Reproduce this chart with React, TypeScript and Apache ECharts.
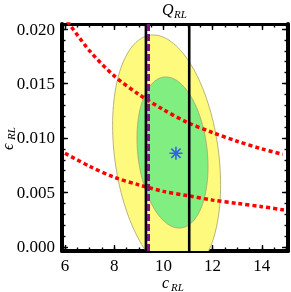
import React, { useEffect, useRef } from "react";
import * as echarts from "echarts";

// Axis ranges
const X_MIN = 5.878;
const X_MAX = 15.065;
const Y_MIN = -0.00037;
const Y_MAX = 0.02046;

// Ticks
const X_MAJOR = [6, 8, 10, 12, 14];
const X_MINOR = [6, 6.5, 7, 7.5, 8, 8.5, 9, 9.5, 10, 10.5, 11, 11.5, 12, 12.5, 13, 13.5, 14, 14.5, 15];
const Y_MAJOR = [0, 0.005, 0.01, 0.015, 0.02];
const Y_MINOR = [0, 0.001, 0.002, 0.003, 0.004, 0.005, 0.006, 0.007, 0.008, 0.009, 0.01, 0.011, 0.012, 0.013, 0.014, 0.015, 0.016, 0.017, 0.018, 0.019, 0.02];

// Confidence regions (outer = yellow, inner = green)
const ELLIPSE_CX = [10.13, 10.37];
const ELLIPSE_CY = [0.00844, 0.00867];
const ELLIPSE_RX = [2.195, 1.443];
const ELLIPSE_RY = [0.01067, 0.00681];
const ELLIPSE_TILT = [-0.00124, -0.000903];
const ELLIPSE_FILL = ["#fdfa7e", "#80ee80"];

// Red dotted curves
const UPPER_X = [6.1, 7, 8, 9, 10, 11, 12, 13, 14, 14.85];
const UPPER_Y = [0.0207, 0.018, 0.0157, 0.014, 0.0126, 0.0114, 0.0105, 0.0097, 0.009, 0.0085];
const LOWER_X = [6, 7, 8, 9, 10, 11, 12, 13, 14, 14.9];
const LOWER_Y = [0.0086, 0.0074, 0.0064, 0.0057, 0.0051, 0.0047, 0.0043, 0.004, 0.0037, 0.0034];

// Vertical lines
const BLACK_LINES_X = [9.29, 11.05];
const PURPLE_LINE_X = 9.39;

// Best-fit point
const BEST_FIT = [10.51, 0.0086];

const SERIF = "'Liberation Serif', 'Times New Roman', serif";

const ASTERISK =
  "path://M10,1.2 L10,-1.2 L-10,-1.2 L-10,1.2 Z " +
  "M-1.2,10 L1.2,10 L1.2,-10 L-1.2,-10 Z " +
  "M6.22,7.92 L7.92,6.22 L-6.22,-7.92 L-7.92,-6.22 Z " +
  "M-7.92,6.22 L-6.22,7.92 L7.92,-6.22 L6.22,-7.92 Z";

function xAxisDef(position: string, ticks: number[], len: number, showLabel: boolean, lineW: number) {
  return {
    type: "value",
    position,
    min: X_MIN,
    max: X_MAX,
    splitLine: { show: false },
    axisLine: { show: lineW > 0, onZero: false, lineStyle: { color: "#000", width: lineW } },
    axisTick: { show: true, inside: true, length: len, customValues: ticks, lineStyle: { color: "#000", width: 1.4 } },
    axisLabel: {
      show: showLabel,
      customValues: X_MAJOR,
      fontFamily: SERIF,
      fontSize: 17,
      color: "#000",
      margin: 6,
    },
  };
}

function yAxisDef(position: string, ticks: number[], len: number, showLabel: boolean, lineW: number) {
  return {
    type: "value",
    position,
    min: Y_MIN,
    max: Y_MAX,
    splitLine: { show: false },
    axisLine: { show: lineW > 0, onZero: false, lineStyle: { color: "#000", width: lineW } },
    axisTick: { show: true, inside: true, length: len, customValues: ticks, lineStyle: { color: "#000", width: 1.4 } },
    axisLabel: {
      show: showLabel,
      customValues: Y_MAJOR,
      fontFamily: SERIF,
      fontSize: 17,
      color: "#000",
      margin: 7,
      formatter: (v: number) => v.toFixed(3),
    },
  };
}

function italicText(x: number, y: number, text: string, size: number) {
  return {
    type: "text",
    x,
    y,
    style: {
      text,
      fontFamily: SERIF,
      fontStyle: "italic",
      fontSize: size,
      fill: "#000",
      textAlign: "left",
      textVerticalAlign: "middle",
      align: "left",
      verticalAlign: "middle",
    },
  };
}

export default function App() {
  const ref = useRef<HTMLDivElement>(null);
  useEffect(() => {
    if (!ref.current) return;
    const chart = echarts.init(ref.current, undefined, { renderer: "svg" });
    const ellipseData = ELLIPSE_CX.map((cx, i) => [cx, ELLIPSE_CY[i], ELLIPSE_RX[i], ELLIPSE_RY[i], ELLIPSE_TILT[i]]);
    const option: any = {
      animation: false,
      grid: { left: 62, right: 3, top: 24, bottom: 41, show: false },
      xAxis: [
        xAxisDef("bottom", X_MAJOR, 6, true, 4),
        xAxisDef("bottom", X_MINOR, 3.5, false, 0),
        xAxisDef("top", X_MAJOR, 6, false, 3),
        xAxisDef("top", X_MINOR, 3.5, false, 0),
      ],
      yAxis: [
        yAxisDef("left", Y_MAJOR, 6, true, 4),
        yAxisDef("left", Y_MINOR, 3.5, false, 0),
        yAxisDef("right", Y_MAJOR, 6, false, 4),
        yAxisDef("right", Y_MINOR, 3.5, false, 0),
      ],
      series: [
        {
          type: "custom",
          clip: true,
          z: 1,
          data: ellipseData,
          renderItem: (params: any, api: any) => {
            const cx = api.value(0);
            const cy = api.value(1);
            const rx = api.value(2);
            const ry = api.value(3);
            const k = api.value(4);
            const pts: number[][] = [];
            const n = 144;
            for (let i = 0; i < n; i++) {
              const t = (i / n) * Math.PI * 2;
              const dx = rx * Math.cos(t);
              pts.push(api.coord([cx + dx, cy + ry * Math.sin(t) + k * dx]));
            }
            return {
              type: "polygon",
              shape: { points: pts },
              style: { fill: ELLIPSE_FILL[params.dataIndex], stroke: "#a8a070", lineWidth: 0.8 },
            };
          },
        },
        {
          type: "line",
          z: 3,
          data: UPPER_X.map((x, i) => [x, UPPER_Y[i]]),
          showSymbol: false,
          smooth: 0.3,
          lineStyle: { color: "#ff0000", width: 3.5, type: [4, 3], cap: "butt" },
        },
        {
          type: "line",
          z: 3,
          data: LOWER_X.map((x, i) => [x, LOWER_Y[i]]),
          showSymbol: false,
          smooth: 0.3,
          lineStyle: { color: "#ff0000", width: 3.5, type: [4, 3], cap: "butt" },
        },
        ...BLACK_LINES_X.map((x) => ({
          type: "line",
          z: 4,
          data: [
            [x, Y_MIN],
            [x, Y_MAX],
          ],
          showSymbol: false,
          lineStyle: { color: "#000", width: 2.6 },
        })),
        {
          type: "line",
          z: 5,
          data: [
            [PURPLE_LINE_X, Y_MIN],
            [PURPLE_LINE_X, Y_MAX],
          ],
          showSymbol: false,
          lineStyle: { color: "#7a0f86", width: 3.2, type: [7, 3], cap: "butt" },
        },
        {
          type: "scatter",
          z: 6,
          data: [BEST_FIT],
          symbol: ASTERISK,
          symbolSize: 13,
          symbolKeepAspect: true,
          itemStyle: { color: "#1f40ff" },
        },
      ],
      graphic: [
        italicText(162, 9.8, "Q", 16),
        italicText(174, 13.5, "RL", 11),
        italicText(162, 282.5, "c", 16),
        italicText(171, 286.5, "RL", 11),
        {
          type: "group",
          x: 2,
          y: 150,
          rotation: Math.PI / 2,
          children: [italicText(0, 5, "\u03f5", 16), italicText(10, 9, "RL", 11)],
        },
      ],
    };
    chart.setOption(option);
    return () => chart.dispose();
  }, []);
  return <div ref={ref} style={{ position: "fixed", left: 0, top: 0, width: 291, height: 292 }} />;
}
